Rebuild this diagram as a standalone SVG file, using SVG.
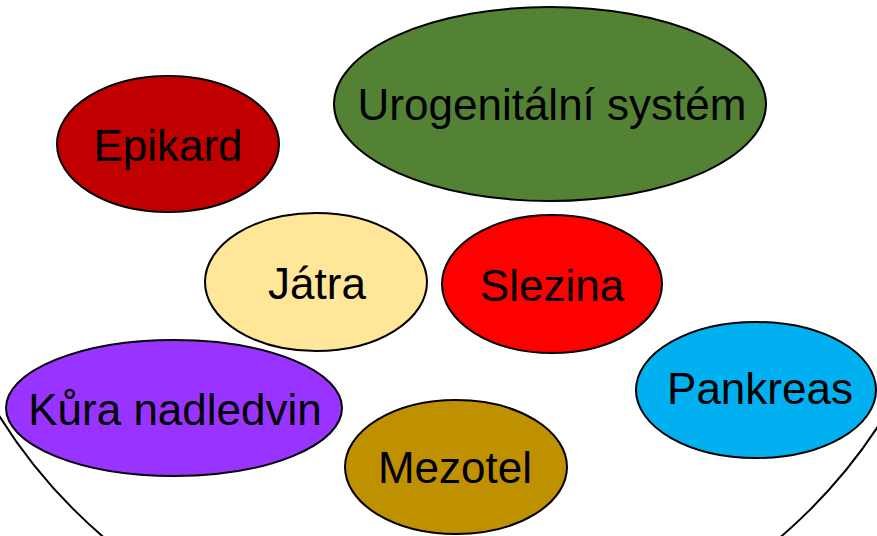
<svg xmlns="http://www.w3.org/2000/svg" width="877" height="536" viewBox="0 0 877 536">
<style>
.n ellipse{stroke:#000;stroke-width:2}
.n text{font-family:"Liberation Sans",Arial,sans-serif;font-size:44px;fill:#000;text-anchor:middle}
</style>
<rect width="877" height="536" fill="#fff"/>
<g id="connectors">
<circle cx="442" cy="141" r="521" fill="none" stroke="#000" stroke-width="2"/>
</g>
<g id="urogenitalni" class="n"><ellipse cx="550" cy="104" rx="216" ry="97" fill="#548235"/><text x="552" y="120">Urogenitální systém</text></g>
<g id="epikard" class="n"><ellipse cx="168" cy="144" rx="111" ry="68" fill="#C00000"/><text x="168" y="161">Epikard</text></g>
<g id="jatra" class="n"><ellipse cx="316" cy="282" rx="111" ry="69" fill="#FFE699"/><text x="317" y="299">Játra</text></g>
<g id="slezina" class="n"><ellipse cx="552" cy="284" rx="110" ry="69" fill="#FF0000"/><text x="552" y="301">Slezina</text></g>
<g id="kura" class="n"><ellipse cx="174" cy="408" rx="168" ry="68" fill="#9933FF"/><text x="175" y="425">Kůra nadledvin</text></g>
<g id="mezotel" class="n"><ellipse cx="456" cy="467" rx="111" ry="67" fill="#BF9000"/><text x="455" y="483">Mezotel</text></g>
<g id="pankreas" class="n"><ellipse cx="756" cy="390" rx="120" ry="68" fill="#00B0F0"/><text x="760" y="404">Pankreas</text></g>
</svg>
